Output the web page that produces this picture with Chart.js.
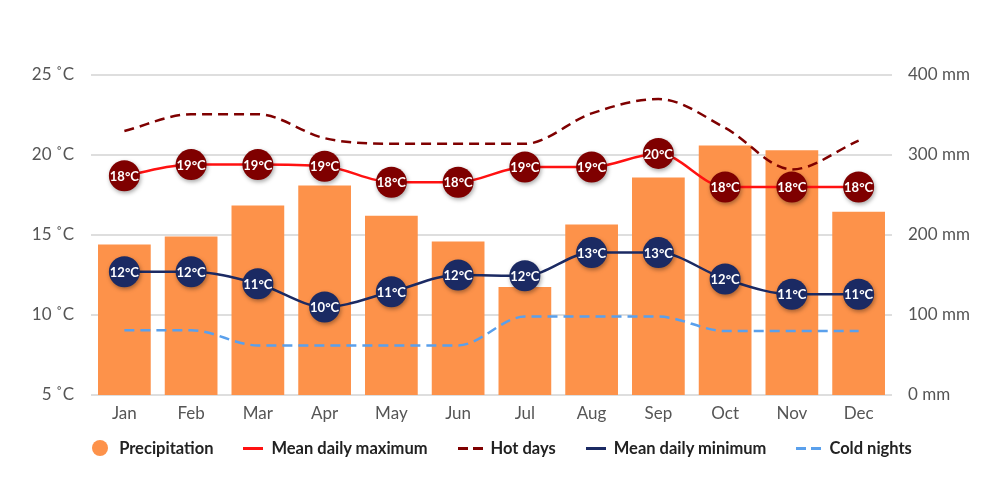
<!DOCTYPE html>
<html>
<head>
<meta charset="utf-8">
<script src="https://cdn.jsdelivr.net/npm/chart.js@4"></script>
<style>
  body { margin: 0; background: #fff; font-family: Lato, sans-serif; }
  #wrap { position: relative; width: 1000px; height: 504px; }
  #legend {
    position: absolute; left: 0; top: 436px; width: 1000px; height: 24px;
    display: flex; justify-content: center; align-items: center; gap: 30px;
    font: bold 16.5px Lato, sans-serif; color: #222;
    padding-left: 4px; box-sizing: border-box;
  }
  .item { display: flex; align-items: center; }
  .dot { width: 16px; height: 16px; border-radius: 50%; margin-right: 11px; }
  .ln { height: 3px; margin-right: 8px; }
</style>
</head>
<body>
<div id="wrap">
  <canvas id="climateChart"></canvas>
  <div id="legend"></div>
</div>
<script>
// Data
const months = ['Jan', 'Feb', 'Mar', 'Apr', 'May', 'Jun', 'Jul', 'Aug', 'Sep', 'Oct', 'Nov', 'Dec'];
const precipitation = [188, 198, 237, 262, 224, 192, 135, 213, 272, 312, 306, 229];
const meanMax = [18.7, 19.4, 19.4, 19.3, 18.3, 18.3, 19.25, 19.25, 20.1, 18.0, 18.0, 18.0];
const hotDays = [21.5, 22.55, 22.55, 21.05, 20.7, 20.7, 20.7, 22.6, 23.5, 21.7, 19.1, 20.9];
const meanMin = [12.7, 12.7, 11.95, 10.5, 11.45, 12.5, 12.45, 13.9, 13.9, 12.25, 11.3, 11.3];
const coldNights = [9.05, 9.05, 8.1, 8.1, 8.1, 8.1, 9.9, 9.9, 9.9, 9.0, 9.0, 9.0];
const maxLabels = [18, 19, 19, 19, 18, 18, 19, 19, 20, 18, 18, 18];
const minLabels = [12, 12, 11, 10, 11, 12, 12, 13, 13, 12, 11, 11];

const ORANGE = '#FD924A';
const RED = '#FF1111';
const MAROON = '#7F0000';
const NAVY = '#1B2A63';
const SKY = '#5AA0EC';

// Shadow under the round markers
const markerShadow = {
    id: 'markerShadow',
    beforeDatasetDraw(chart, args) {
        if (!args.meta._dataset.markerLabels) return;
        const ctx = chart.ctx;
        ctx.save();
        ctx.shadowColor = 'rgba(0,0,0,0.35)';
        ctx.shadowBlur = 4;
        ctx.shadowOffsetX = 1;
        ctx.shadowOffsetY = 2;
    },
    afterDatasetDraw(chart, args) {
        if (!args.meta._dataset.markerLabels) return;
        chart.ctx.restore();
    }
};

// White temperature text inside the markers
const markerText = {
    id: 'markerText',
    afterDatasetsDraw(chart) {
        const ctx = chart.ctx;
        chart.data.datasets.forEach((ds, i) => {
            if (!ds.markerLabels) return;
            const meta = chart.getDatasetMeta(i);
            ctx.save();
            ctx.fillStyle = '#fff';
            ctx.font = 'bold 13px Lato';
            ctx.textAlign = 'center';
            ctx.textBaseline = 'middle';
            meta.data.forEach((pt, j) => {
                ctx.fillText(ds.markerLabels[j] + '°C', pt.x, pt.y + 1);
            });
            ctx.restore();
        });
    }
};

const lineBase = {
    type: 'line',
    yAxisID: 'y',
    pointRadius: 0,
    pointHoverRadius: 0,
    borderWidth: 2.5,
    fill: false,
    cubicInterpolationMode: 'monotone',
    order: 5
};

const tickFont = { family: 'Lato', size: 17 };

new Chart(document.getElementById('climateChart'), {
    data: {
        labels: months,
        datasets: [
            {
                type: 'bar',
                label: 'Precipitation',
                data: precipitation,
                yAxisID: 'y1',
                backgroundColor: ORANGE,
                barPercentage: 0.79,
                categoryPercentage: 1,
                order: 10
            },
            Object.assign({}, lineBase, { label: 'Mean daily maximum', data: meanMax, borderColor: RED }),
            Object.assign({}, lineBase, { label: 'Hot days', data: hotDays, borderColor: MAROON, borderDash: [10, 6] }),
            Object.assign({}, lineBase, { label: 'Mean daily minimum', data: meanMin, borderColor: NAVY }),
            Object.assign({}, lineBase, { label: 'Cold nights', data: coldNights, borderColor: SKY, borderDash: [10, 6] }),
            {
                type: 'line',
                label: 'max markers',
                data: meanMax,
                yAxisID: 'y',
                showLine: false,
                pointRadius: 15.5,
                pointHoverRadius: 15.5,
                pointBackgroundColor: MAROON,
                pointBorderWidth: 0,
                markerLabels: maxLabels,
                order: 1
            },
            {
                type: 'line',
                label: 'min markers',
                data: meanMin,
                yAxisID: 'y',
                showLine: false,
                pointRadius: 15.5,
                pointHoverRadius: 15.5,
                pointBackgroundColor: NAVY,
                pointBorderWidth: 0,
                markerLabels: minLabels,
                order: 1
            }
        ]
    },
    options: {
        responsive: true,
        maintainAspectRatio: false,
        animation: false,
        layout: { padding: { top: 75, bottom: 0, left: 0, right: 0 } },
        plugins: {
            legend: { display: false },
            tooltip: { enabled: false }
        },
        scales: {
            x: {
                grid: { display: false },
                border: { display: false },
                ticks: { color: '#555', font: tickFont, padding: 0 },
                afterFit(scale) { scale.height = 109; }
            },
            y: {
                position: 'left',
                min: 5,
                max: 25,
                ticks: {
                    stepSize: 5,
                    color: '#555',
                    font: tickFont,
                    padding: 17,
                    callback: v => v + ' ˚C'
                },
                grid: { color: '#DEDEDE', lineWidth: 2, drawTicks: false },
                border: { display: false },
                afterFit(scale) { scale.width = 91; }
            },
            y1: {
                position: 'right',
                min: 0,
                max: 400,
                ticks: {
                    stepSize: 100,
                    color: '#555',
                    font: tickFont,
                    padding: 16,
                    callback: v => v + ' mm'
                },
                grid: { display: false, drawTicks: false },
                border: { display: false },
                afterFit(scale) { scale.width = 108; }
            }
        }
    },
    plugins: [markerShadow, markerText]
});

// Legend below the chart
const legendItems = [
    { text: 'Precipitation', kind: 'dot', color: ORANGE },
    { text: 'Mean daily maximum', kind: 'solid', color: RED },
    { text: 'Hot days', kind: 'dash', color: MAROON },
    { text: 'Mean daily minimum', kind: 'solid', color: NAVY },
    { text: 'Cold nights', kind: 'dash', color: SKY }
];
const legend = document.getElementById('legend');
legendItems.forEach(it => {
    const item = document.createElement('div');
    item.className = 'item';
    const sw = document.createElement('span');
    if (it.kind === 'dot') {
        sw.className = 'dot';
        sw.style.background = it.color;
    } else if (it.kind === 'solid') {
        sw.className = 'ln';
        sw.style.width = '20px';
        sw.style.background = it.color;
    } else {
        sw.className = 'ln';
        sw.style.width = '25px';
        sw.style.background = `repeating-linear-gradient(to right, ${it.color} 0 10px, transparent 10px 15px)`;
    }
    const label = document.createElement('span');
    label.textContent = it.text;
    item.appendChild(sw);
    item.appendChild(label);
    legend.appendChild(item);
});
</script>
</body>
</html>
